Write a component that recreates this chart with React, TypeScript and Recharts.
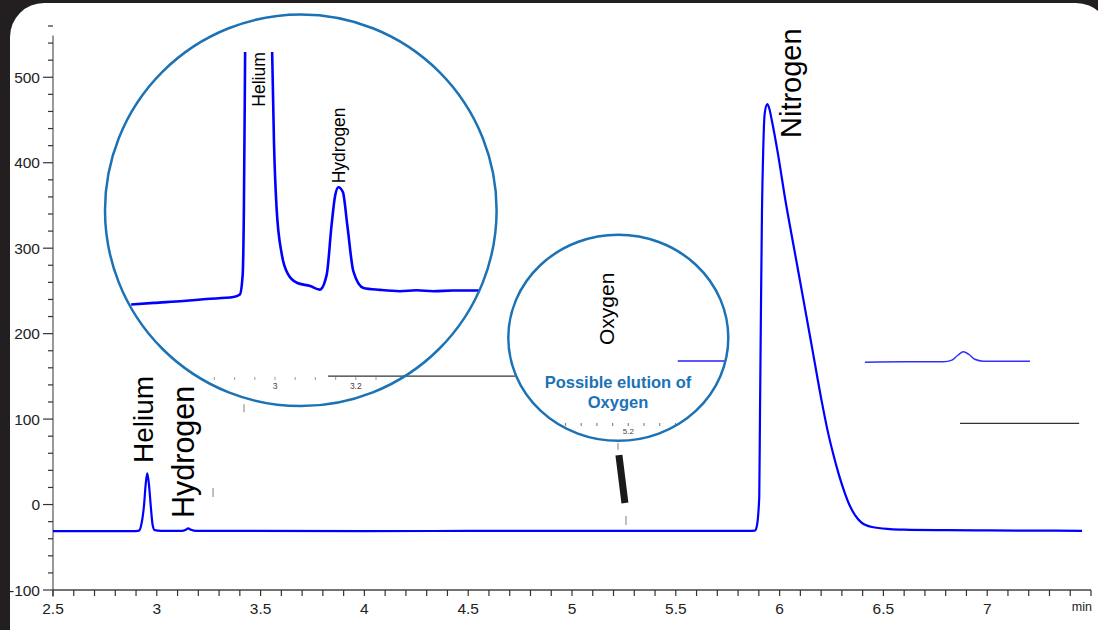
import React from 'react';
import { LineChart, Line, XAxis, YAxis, ReferenceLine } from 'recharts';

const FONT = '"Liberation Sans", Arial, Helvetica, sans-serif';
const BLUE = '#0000ff';
const RING = '#1b72b5';

// ---------- main chromatogram (time in min, signal) ----------
const mainTime = [
  2.5, 2.7, 2.9, 2.914, 2.925, 2.938, 2.947, 2.954, 2.962, 2.971, 2.98, 2.99, 3.02,
  3.12, 3.14, 3.151, 3.165, 3.19, 3.4, 4.0, 4.5, 5.0, 5.5, 5.85, 5.881, 5.8897,
  5.902, 5.9056, 5.91, 5.915, 5.9215, 5.9282, 5.9407, 5.9499, 5.9634, 5.9923, 6.0279,
  6.0713, 6.1151, 6.1585, 6.2018, 6.2307, 6.2596, 6.2861, 6.3126, 6.3367, 6.3632, 6.3921,
  6.4451, 6.5318, 6.6, 6.8, 7.0, 7.2, 7.457,
];
const mainSignal = [
  -31, -31, -31, -30.6, -24, -2, 25, 36.5, 24, -2, -24, -30, -30.8,
  -30.8, -29.5, -28, -29.5, -30.8, -30.9, -31, -30.9, -30.8, -30.9, -30.8, -30.5, -26,
  9, 107, 224, 341, 418.5, 457.5, 468.5, 463.7, 448.5, 410, 356.1,
  297.7, 239.2, 180.7, 122.2, 87.1, 57.9, 34.5, 14.6, -0.6, -12.3, -20.5,
  -26.3, -28.7, -29.4, -30, -30.3, -30.5, -30.7,
];

// small floating trace (right side)
const sideTime = [6.411, 6.6, 6.789, 6.83, 6.86, 6.885, 6.91, 6.94, 6.981, 7.1, 7.206];
const sideSignal = [166.5, 167, 167, 169, 175, 178.7, 176, 170, 167.8, 167.8, 167.8];

// ---------- inset 1 : zoom on helium / hydrogen ----------
const zoomTime = [
  2.644, 2.70, 2.773, 2.83, 2.897, 2.913, 2.92, 2.923, 2.926, 2.955, 2.993, 2.9975,
  3.004, 3.017, 3.033, 3.054, 3.087, 3.111, 3.128, 3.14, 3.149, 3.157, 3.168,
  3.179, 3.194, 3.219, 3.26, 3.309, 3.35, 3.392, 3.44, 3.495, 3.55,
];
const zoomSignal = [
  -31.77, -31.72, -31.66, -31.6, -31.54, -31.46, -30.85, -28.82, -24.04, 36.5, -24.04, -26.79,
  -28.82, -30.24, -30.85, -31.1, -31.2, -31.31, -30.85, -29.33, -28.41, -28.16, -28.31,
  -29.33, -30.75, -31.26, -31.32, -31.36, -31.33, -31.36, -31.34, -31.34, -31.34,
];
const zoomTicks = [2.85, 2.9, 2.95, 3.0, 3.05, 3.1, 3.15, 3.2, 3.25];
const zoomLabels = [3.0, 3.2];

// ---------- inset 2 : possible oxygen ----------
const oxyTime = [5.263, 5.3, 5.34];
const oxySignal = [-31, -31, -31];
const oxyTicks = [5.12, 5.14, 5.16, 5.18, 5.2, 5.22, 5.24, 5.26];
const oxyLabels = [5.2];

// ---------- axes ----------
const yMajor = [-100, 0, 100, 200, 300, 400, 500];
const xMajor = [2.5, 3, 3.5, 4, 4.5, 5, 5.5, 6, 6.5, 7];

function steps(a: number, b: number, s: number) {
  const out: number[] = [];
  const n = Math.round((b - a) / s);
  for (let i = 0; i <= n; i++) out.push(Math.round((a + i * s) * 1000) / 1000);
  return out;
}
const yTicks = steps(-100, 560, 20);
const xTicks = steps(2.5, 7.5, 0.1);

// ---------- annotation segments (data coordinates) ----------
const blackSegs = [
  { t1: 3.825, v1: 150.3, t2: 4.725, v2: 150.3 },
  { t1: 6.869, v1: 95, t2: 7.443, v2: 95 },
];
const barSeg = { t1: 5.226, v1: 57.9, t2: 5.255, v2: 1.75 };
const grayTicks = [
  { t: 3.271, v1: 19.3, v2: 8.8 },
  { t: 3.42, v1: 117.5, v2: 108 },
  { t: 5.26, v1: -13.5, v2: -24 },
  { t: 5.2216, v1: 72, v2: 64 },
];

const mainData = mainTime.map((t, i) => ({ t, v: mainSignal[i] }));
const sideData = sideTime.map((t, i) => ({ t, v: sideSignal[i] }));
const zoomData = zoomTime.map((t, i) => ({ t, v: zoomSignal[i] }));
const oxyData = oxyTime.map((t, i) => ({ t, v: oxySignal[i] }));

const AXIS_X = 53;

const YTick = (props: any) => {
  const { y, payload } = props;
  const v = payload.value;
  const major = yMajor.includes(v);
  return (
    <g>
      <line x1={AXIS_X - (major ? 10 : 5)} x2={AXIS_X} y1={y} y2={y} stroke="#333" strokeWidth={1.2} />
      {major && (
        <text x={AXIS_X - 13} y={y} dy="0.36em" textAnchor="end" fontSize={15.5} fill="#222" fontFamily={FONT}>
          {v}
        </text>
      )}
    </g>
  );
};

const fmtX = (v: number) => (xMajor.some((m) => Math.abs(m - v) < 1e-6) ? String(v) : '');
const fmtZoom = (v: number) => (zoomLabels.some((m) => Math.abs(m - v) < 1e-6) ? String(Number(v.toFixed(1))) : '');
const fmtOxy = (v: number) => (oxyLabels.some((m) => Math.abs(m - v) < 1e-6) ? String(v) : '');

export default function App() {
  return (
    <div style={{ position: 'absolute', left: 0, top: 0, width: 1098, height: 630, background: '#231f20', overflow: 'hidden', fontFamily: FONT }}>
      <div style={{ position: 'absolute', left: 10, top: 3, width: 1100, height: 700, background: '#fff', borderRadius: 34 }} />

      {/* main chart */}
      <div style={{ position: 'absolute', left: 0, top: 0 }}>
        <LineChart width={1098} height={630} data={mainData} margin={{ top: 26, right: 7, bottom: 10, left: 8 }}>
          <XAxis
            type="number"
            dataKey="t"
            domain={[2.5, 7.5]}
            ticks={xTicks}
            interval={0}
            tickSize={6}
            tickMargin={7}
            height={30}
            tickLine={{ stroke: '#333', strokeWidth: 1.2 }}
            axisLine={{ stroke: '#444', strokeWidth: 1.3 }}
            tick={{ fontSize: 15.5, fill: '#222', fontFamily: FONT }}
            tickFormatter={fmtX}
            allowDataOverflow
          />
          <YAxis
            type="number"
            domain={[-100, 560]}
            ticks={yTicks}
            interval={0}
            width={45}
            axisLine={false}
            tickLine={false}
            tick={<YTick />}
            allowDataOverflow
          />
          <ReferenceLine segment={[{ x: 2.5, y: -108 }, { x: 2.5, y: 549 }]} stroke="#777" strokeWidth={1.5} ifOverflow="visible" />
          {blackSegs.map((s, i) => (
            <ReferenceLine key={'b' + i} segment={[{ x: s.t1, y: s.v1 }, { x: s.t2, y: s.v2 }]} stroke="#333" strokeWidth={1.3} ifOverflow="visible" />
          ))}
          <ReferenceLine segment={[{ x: barSeg.t1, y: barSeg.v1 }, { x: barSeg.t2, y: barSeg.v2 }]} stroke="#1a1a1a" strokeWidth={7} ifOverflow="visible" />
          {grayTicks.map((g, i) => (
            <ReferenceLine key={'g' + i} segment={[{ x: g.t, y: g.v1 }, { x: g.t, y: g.v2 }]} stroke="#aaa" strokeWidth={1.5} ifOverflow="visible" />
          ))}
          <Line type="monotone" dataKey="v" data={mainData} stroke={BLUE} strokeWidth={2.2} dot={false} isAnimationActive={false} />
          <Line type="monotone" dataKey="v" data={sideData} stroke="#3030ff" strokeWidth={1.5} dot={false} isAnimationActive={false} />
        </LineChart>
      </div>

      {/* inset 1 */}
      <div style={{ position: 'absolute', left: 105, top: 14, width: 392, height: 392, borderRadius: '50%', overflow: 'hidden' }}>
        <LineChart width={392} height={392} data={zoomData} margin={{ top: 38, right: 0, bottom: 0, left: 0 }}>
          <XAxis
            type="number"
            dataKey="t"
            domain={[2.57921, 3.5495]}
            ticks={zoomTicks}
            interval={0}
            height={29}
            tickSize={3}
            tickMargin={3}
            axisLine={false}
            tickLine={{ stroke: '#aaa', strokeWidth: 1.2 }}
            tick={{ fontSize: 8.5, fill: '#444', fontFamily: FONT }}
            tickFormatter={fmtZoom}
            allowDataOverflow
          />
          <YAxis hide type="number" domain={[-34, -24]} allowDataOverflow />
          <Line type="monotone" dataKey="v" stroke={BLUE} strokeWidth={2.6} dot={false} isAnimationActive={false} />
        </LineChart>
      </div>

      {/* inset 2 */}
      <div style={{ position: 'absolute', left: 508, top: 235, width: 220, height: 206, borderRadius: '50%', overflow: 'hidden' }}>
        <LineChart width={220} height={206} data={oxyData} margin={{ top: 64, right: 0, bottom: 0, left: 0 }}>
          <XAxis
            type="number"
            dataKey="t"
            domain={[5.04675, 5.327]}
            ticks={oxyTicks}
            interval={0}
            height={18}
            tickSize={3}
            tickMargin={2}
            axisLine={false}
            tickLine={{ stroke: '#888', strokeWidth: 1.2 }}
            tick={{ fontSize: 8, fill: '#444', fontFamily: FONT }}
            tickFormatter={fmtOxy}
            allowDataOverflow
          />
          <YAxis hide type="number" domain={[-31.5, -30.5]} allowDataOverflow />
          <Line type="monotone" dataKey="v" stroke="#2222ff" strokeWidth={1.5} dot={false} isAnimationActive={false} />
        </LineChart>
      </div>

      {/* annotations */}
      <svg width={1098} height={630} style={{ position: 'absolute', left: 0, top: 0, pointerEvents: 'none' }} fontFamily={FONT}>
        <circle cx={300.8} cy={210.3} r={195.8} fill="none" stroke={RING} strokeWidth={2.5} />
        <ellipse cx={618.3} cy={337.8} rx={110} ry={103} fill="none" stroke={RING} strokeWidth={2.5} />

        <text transform="translate(153,463) rotate(-90)" fontSize={28} fill="#000">Helium</text>
        <text transform="translate(194,518) rotate(-90)" fontSize={30.5} fill="#000">Hydrogen</text>
        <text transform="translate(801,138) rotate(-90)" fontSize={29} fill="#000">Nitrogen</text>

        <text transform="translate(265,106.7) rotate(-90)" fontSize={17.5} fill="#000">Helium</text>
        <text transform="translate(345,183.3) rotate(-90)" fontSize={17.5} fill="#000">Hydrogen</text>

        <text transform="translate(614,345) rotate(-90)" fontSize={21} fill="#000">Oxygen</text>
        <text x={618} y={388.3} textAnchor="middle" fontSize={16.5} fontWeight="bold" fill={RING}>Possible elution of</text>
        <text x={618} y={408.3} textAnchor="middle" fontSize={16.5} fontWeight="bold" fill={RING}>Oxygen</text>

        <text x={1092} y={611} textAnchor="end" fontSize={12.5} fill="#222">min</text>
      </svg>
    </div>
  );
}
